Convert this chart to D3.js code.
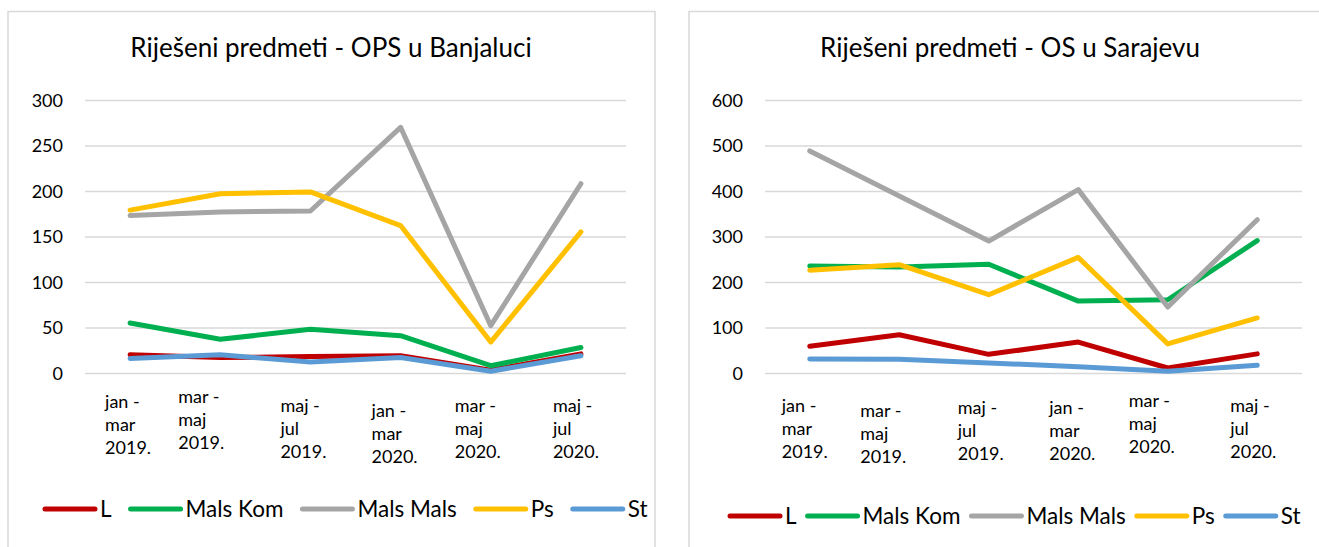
<!DOCTYPE html>
<html>
<head>
<meta charset="utf-8">
<script src="https://cdn.jsdelivr.net/npm/d3@7"></script>
<style>
  body { margin: 0; background: #fff; }
  text { font-family: Lato, "Open Sans", sans-serif; fill: #000; }
  .title { font-size: 26px; }
  .tick text { font-size: 18px; }
  .xlab { font-size: 18px; }
  .legend text { font-size: 22.5px; }
</style>
</head>
<body>
<svg id="chart" width="1319" height="547"></svg>
<script>
// categories (x axis), one entry per wrapped label line
var periods = [
    ["jan -", "mar", "2019."],
    ["mar -", "maj", "2019."],
    ["maj -", "jul", "2019."],
    ["jan -", "mar", "2020."],
    ["mar -", "maj", "2020."],
    ["maj -", "jul", "2020."]
]

var seriesNames = ["L", "Mals Kom", "Mals Mals", "Ps", "St"]
var seriesColors = ["#C00000", "#00B050", "#A5A5A5", "#FFC000", "#5B9BD5"]

// OPS u Banjaluci
var bl_L = [20, 17, 18, 19, 3, 21]
var bl_MalsKom = [55, 37, 48, 41, 8, 28]
var bl_MalsMals = [173, 177, 178, 270, 52, 208]
var bl_Ps = [179, 197, 199, 162, 34, 155]
var bl_St = [16, 20, 12, 17, 2, 19]
var bl_ticks = [0, 50, 100, 150, 200, 250, 300]

// OS u Sarajevu
var sa_L = [59, 84, 41, 68, 11, 42]
var sa_MalsKom = [235, 233, 239, 158, 161, 291]
var sa_MalsMals = [488, 389, 290, 403, 145, 337]
var sa_Ps = [226, 238, 172, 254, 64, 121]
var sa_St = [31, 30, 22, 14, 4, 17]
var sa_ticks = [0, 100, 200, 300, 400, 500, 600]

var svg = d3.select("#chart")

function drawPanel(cfg) {

    var g = svg.append("g")

    // chart area border
    g.append("rect")
        .attr("x", cfg.boxX)
        .attr("y", 11.5)
        .attr("width", cfg.boxW)
        .attr("height", 560)
        .attr("fill", "none")
        .attr("stroke", "#d9d9d9")
        .attr("stroke-width", 1.5)

    g.append("text")
        .attr("class", "title")
        .attr("x", cfg.titleX)
        .attr("y", 57)
        .attr("text-anchor", "middle")
        .text(cfg.title)

    var top = 100, bottom = 373

    var x = d3.scaleBand()
        .domain(d3.range(periods.length))
        .range([cfg.left, cfg.right])

    var y = d3.scaleLinear()
        .domain([0, d3.max(cfg.ticks)])
        .range([bottom, top])

    // y axis + gridlines
    var yAxis = g.append("g")
        .attr("transform", "translate(" + cfg.left + ",0)")
        .call(d3.axisLeft(y).tickValues(cfg.ticks).tickSize(-(cfg.right - cfg.left)).tickPadding(22))
    yAxis.select(".domain").remove()
    yAxis.selectAll(".tick line").attr("stroke", "#d9d9d9").attr("stroke-width", 1.5)
    yAxis.selectAll(".tick text").attr("dy", "0.36em")

    // x labels, wrapped on three lines (Excel places each block a bit differently)
    var xl = g.append("g")
    periods.forEach(function(lines, i) {
        var lx = x(i) + x.bandwidth() / 2 + cfg.labelDx[i]
        var t = xl.append("text")
            .attr("class", "xlab")
            .attr("x", lx)
            .attr("y", cfg.labelY[i])
        lines.forEach(function(line, j) {
            t.append("tspan")
                .attr("x", lx)
                .attr("dy", j == 0 ? 0 : 23)
                .text(line)
        })
    })

    var line = d3.line()
        .x(function(d, i) { return x(i) + x.bandwidth() / 2 })
        .y(function(d) { return y(d) })

    cfg.series.forEach(function(values, k) {
        g.append("path")
            .datum(values)
            .attr("fill", "none")
            .attr("stroke", seriesColors[k])
            .attr("stroke-width", 5)
            .attr("stroke-linejoin", "round")
            .attr("stroke-linecap", "round")
            .attr("d", line)
    })

    // legend
    var lg = g.append("g").attr("class", "legend")
    var lx = cfg.legendX
    seriesNames.forEach(function(name, k) {
        lg.append("line")
            .attr("x1", lx + 2).attr("x2", lx + 52)
            .attr("y1", cfg.legendY).attr("y2", cfg.legendY)
            .attr("stroke", seriesColors[k])
            .attr("stroke-width", 5)
            .attr("stroke-linecap", "round")
        var t = lg.append("text")
            .attr("x", lx + 57)
            .attr("y", cfg.legendY + 8)
            .text(name)
        lx += 57 + t.node().getComputedTextLength() + cfg.legendGap
    })
}

drawPanel({
    boxX: 8, boxW: 647,
    title: "Riješeni predmeti - OPS u Banjaluci", titleX: 331,
    left: 85, right: 626,
    ticks: bl_ticks,
    series: [bl_L, bl_MalsKom, bl_MalsMals, bl_Ps, bl_St],
    labelDx: [-25, -42, -30, -29, -36, -28],
    labelY: [408, 403, 412, 417, 412, 412],
    legendX: 43, legendY: 509, legendGap: 17
})

drawPanel({
    boxX: 689, boxW: 660,
    title: "Riješeni predmeti - OS u Sarajevu", titleX: 1010,
    left: 765, right: 1302,
    ticks: sa_ticks,
    series: [sa_L, sa_MalsKom, sa_MalsMals, sa_Ps, sa_St],
    labelDx: [-28, -39, -31, -29, -39, -27],
    labelY: [412, 417, 414, 414, 407, 412],
    legendX: 728, legendY: 516, legendGap: 9
})
</script>
</body>
</html>
